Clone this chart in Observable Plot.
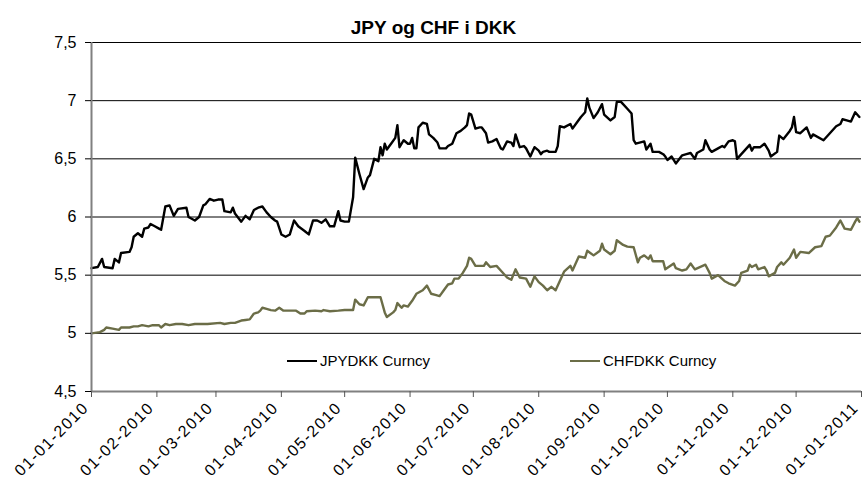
<!DOCTYPE html>
<html>
<head>
<meta charset="utf-8">
<script src="https://cdn.jsdelivr.net/npm/d3@7"></script>
<script src="https://cdn.jsdelivr.net/npm/@observablehq/plot@0.6"></script>
<style>
  body { margin: 0; background: #fff; }
  #wrap { position: relative; width: 863px; height: 483px; font-family: "Liberation Sans", Arial, sans-serif; }
  #title { position: absolute; left: 0; width: 863px; top: 17px; text-align: center; font-weight: bold; font-size: 19px; line-height: 22px; padding-left: 2px; }
  .leg { position: absolute; top: 352px; font-size: 15px; line-height: 18px; display: flex; align-items: center; }
  .leg span.sw { display: inline-block; width: 30px; height: 2.5px; margin-right: 3px; }
  svg text.xl { letter-spacing: 1.5px; }
</style>
</head>
<body>
<div id="wrap">
  <div id="title">JPY og CHF i DKK</div>
  <div id="chart"></div>
  <div class="leg" style="left:287px"><span class="sw" style="background:#000"></span>JPYDKK Curncy</div>
  <div class="leg" style="left:570px"><span class="sw" style="background:#6b6d47"></span>CHFDKK Curncy</div>
</div>
<script>
const seriesNames = ["JPYDKK Curncy", "CHFDKK Curncy"];
const seriesColors = ["#000000", "#6b6d47"];
const yTicks = [4.5, 5, 5.5, 6, 6.5, 7, 7.5];
const monthTicks = ["2010-01-01","2010-02-01","2010-03-01","2010-04-01","2010-05-01","2010-06-01","2010-07-01","2010-08-01","2010-09-01","2010-10-01","2010-11-01","2010-12-01","2011-01-01"];

const jpy = [
["2010-01-01",5.56],["2010-01-04",5.57],["2010-01-06",5.64],["2010-01-07",5.57],["2010-01-11",5.56],["2010-01-12",5.64],["2010-01-14",5.61],["2010-01-15",5.69],["2010-01-19",5.70],["2010-01-20",5.74],["2010-01-21",5.83],["2010-01-23",5.86],["2010-01-25",5.83],["2010-01-26",5.90],["2010-01-28",5.91],["2010-01-29",5.94],["2010-01-31",5.92],
["2010-02-02",5.90],["2010-02-03",5.89],["2010-02-05",6.09],["2010-02-07",6.10],["2010-02-09",6.01],["2010-02-11",6.07],["2010-02-15",6.08],["2010-02-16",6.00],["2010-02-19",5.97],["2010-02-21",6.00],["2010-02-23",6.10],["2010-02-24",6.11],["2010-02-26",6.155],["2010-02-28",6.14],
["2010-03-02",6.15],["2010-03-04",6.15],["2010-03-05",6.05],["2010-03-08",6.04],["2010-03-09",6.08],["2010-03-10",6.03],["2010-03-13",5.96],["2010-03-15",6.01],["2010-03-17",5.98],["2010-03-19",6.06],["2010-03-21",6.08],["2010-03-23",6.09],["2010-03-25",6.04],["2010-03-27",6.00],["2010-03-29",5.97],["2010-03-30",5.96],
["2010-04-01",5.85],["2010-04-03",5.83],["2010-04-05",5.85],["2010-04-07",5.97],["2010-04-09",5.92],["2010-04-12",5.88],["2010-04-14",5.85],["2010-04-16",5.97],["2010-04-18",5.97],["2010-04-20",5.95],["2010-04-22",5.98],["2010-04-24",5.92],["2010-04-26",5.92],["2010-04-28",6.05],["2010-04-29",5.97],
["2010-05-01",5.96],["2010-05-03",5.96],["2010-05-05",6.17],["2010-05-06",6.51],["2010-05-08",6.37],["2010-05-10",6.24],["2010-05-12",6.34],["2010-05-13",6.36],["2010-05-15",6.50],["2010-05-17",6.48],["2010-05-18",6.60],["2010-05-19",6.53],["2010-05-20",6.63],["2010-05-21",6.58],["2010-05-23",6.63],["2010-05-25",6.68],["2010-05-26",6.79],["2010-05-27",6.60],["2010-05-29",6.66],["2010-05-31",6.63],
["2010-06-01",6.63],["2010-06-02",6.68],["2010-06-03",6.59],["2010-06-04",6.59],["2010-06-05",6.77],["2010-06-07",6.81],["2010-06-09",6.80],["2010-06-10",6.71],["2010-06-12",6.68],["2010-06-14",6.64],["2010-06-15",6.59],["2010-06-18",6.59],["2010-06-19",6.61],["2010-06-21",6.63],["2010-06-23",6.72],["2010-06-25",6.74],["2010-06-27",6.77],["2010-06-28",6.79],["2010-06-29",6.89],["2010-06-30",6.88],
["2010-07-02",6.76],["2010-07-04",6.77],["2010-07-05",6.77],["2010-07-07",6.72],["2010-07-08",6.64],["2010-07-10",6.65],["2010-07-12",6.67],["2010-07-13",6.63],["2010-07-14",6.59],["2010-07-15",6.58],["2010-07-17",6.65],["2010-07-19",6.64],["2010-07-20",6.61],["2010-07-21",6.71],["2010-07-23",6.60],["2010-07-25",6.61],["2010-07-26",6.59],["2010-07-28",6.52],["2010-07-29",6.56],["2010-07-30",6.60],
["2010-08-01",6.57],["2010-08-02",6.54],["2010-08-03",6.56],["2010-08-05",6.57],["2010-08-06",6.56],["2010-08-09",6.56],["2010-08-10",6.61],["2010-08-11",6.78],["2010-08-13",6.77],["2010-08-16",6.80],["2010-08-17",6.76],["2010-08-19",6.81],["2010-08-21",6.86],["2010-08-23",6.90],["2010-08-24",7.02],["2010-08-25",6.94],["2010-08-27",6.85],["2010-08-29",6.90],["2010-08-31",6.97],
["2010-09-01",6.88],["2010-09-04",6.83],["2010-09-06",6.86],["2010-09-07",6.99],["2010-09-09",6.99],["2010-09-12",6.93],["2010-09-14",6.89],["2010-09-15",6.66],["2010-09-16",6.63],["2010-09-20",6.65],["2010-09-21",6.58],["2010-09-23",6.63],["2010-09-24",6.56],["2010-09-27",6.56],["2010-09-29",6.54],["2010-09-30",6.52],
["2010-10-01",6.49],["2010-10-03",6.52],["2010-10-05",6.46],["2010-10-08",6.53],["2010-10-10",6.54],["2010-10-12",6.55],["2010-10-14",6.50],["2010-10-15",6.55],["2010-10-18",6.58],["2010-10-19",6.66],["2010-10-21",6.58],["2010-10-22",6.56],["2010-10-25",6.59],["2010-10-27",6.61],["2010-10-28",6.60],["2010-10-30",6.65],
["2010-11-01",6.66],["2010-11-02",6.65],["2010-11-03",6.50],["2010-11-06",6.56],["2010-11-09",6.62],["2010-11-10",6.57],["2010-11-11",6.60],["2010-11-14",6.60],["2010-11-16",6.63],["2010-11-18",6.57],["2010-11-19",6.52],["2010-11-22",6.56],["2010-11-23",6.70],["2010-11-25",6.67],["2010-11-28",6.74],["2010-11-29",6.77],["2010-11-30",6.86],
["2010-12-01",6.73],["2010-12-03",6.72],["2010-12-06",6.77],["2010-12-08",6.68],["2010-12-09",6.71],["2010-12-14",6.66],["2010-12-17",6.72],["2010-12-20",6.78],["2010-12-22",6.80],["2010-12-23",6.84],["2010-12-25",6.83],["2010-12-27",6.82],["2010-12-29",6.90],["2010-12-31",6.86]
];

const chf = [
["2010-01-01",5.00],["2010-01-05",5.01],["2010-01-07",5.03],["2010-01-08",5.05],["2010-01-11",5.04],["2010-01-14",5.03],["2010-01-15",5.05],["2010-01-19",5.05],["2010-01-21",5.06],["2010-01-23",5.06],["2010-01-25",5.07],["2010-01-28",5.06],["2010-01-30",5.07],
["2010-02-02",5.07],["2010-02-03",5.05],["2010-02-05",5.08],["2010-02-07",5.07],["2010-02-10",5.08],["2010-02-13",5.08],["2010-02-16",5.07],["2010-02-19",5.08],["2010-02-25",5.08],
["2010-03-03",5.09],["2010-03-05",5.08],["2010-03-08",5.09],["2010-03-10",5.09],["2010-03-13",5.11],["2010-03-15",5.115],["2010-03-17",5.12],["2010-03-19",5.17],["2010-03-21",5.18],["2010-03-22",5.195],["2010-03-23",5.22],["2010-03-25",5.21],["2010-03-27",5.20],["2010-03-29",5.195],["2010-03-31",5.22],
["2010-04-02",5.195],["2010-04-08",5.195],["2010-04-10",5.17],["2010-04-12",5.17],["2010-04-13",5.19],["2010-04-17",5.195],["2010-04-20",5.19],["2010-04-21",5.20],["2010-04-24",5.19],["2010-04-28",5.195],
["2010-05-01",5.20],["2010-05-05",5.20],["2010-05-06",5.29],["2010-05-08",5.25],["2010-05-10",5.24],["2010-05-12",5.31],["2010-05-18",5.31],["2010-05-20",5.18],["2010-05-21",5.14],["2010-05-24",5.18],["2010-05-25",5.20],["2010-05-26",5.26],["2010-05-28",5.22],["2010-05-29",5.24],["2010-05-31",5.23],
["2010-06-02",5.28],["2010-06-04",5.34],["2010-06-07",5.37],["2010-06-09",5.41],["2010-06-11",5.34],["2010-06-13",5.33],["2010-06-15",5.32],["2010-06-17",5.37],["2010-06-19",5.42],["2010-06-21",5.43],["2010-06-22",5.47],["2010-06-24",5.47],["2010-06-26",5.52],["2010-06-28",5.58],["2010-06-29",5.65],["2010-06-30",5.64],
["2010-07-02",5.58],["2010-07-06",5.58],["2010-07-07",5.61],["2010-07-09",5.57],["2010-07-12",5.58],["2010-07-14",5.54],["2010-07-17",5.48],["2010-07-19",5.46],["2010-07-21",5.55],["2010-07-23",5.48],["2010-07-26",5.47],["2010-07-28",5.40],["2010-07-30",5.49],
["2010-08-01",5.44],["2010-08-03",5.41],["2010-08-05",5.37],["2010-08-07",5.40],["2010-08-09",5.37],["2010-08-11",5.45],["2010-08-13",5.53],["2010-08-16",5.58],["2010-08-17",5.54],["2010-08-20",5.66],["2010-08-23",5.65],["2010-08-24",5.71],["2010-08-27",5.67],["2010-08-30",5.71],["2010-08-31",5.77],
["2010-09-01",5.72],["2010-09-04",5.68],["2010-09-06",5.71],["2010-09-07",5.80],["2010-09-10",5.76],["2010-09-12",5.745],["2010-09-15",5.74],["2010-09-17",5.61],["2010-09-18",5.65],["2010-09-20",5.67],["2010-09-22",5.64],["2010-09-23",5.67],["2010-09-24",5.62],["2010-09-29",5.62],["2010-09-30",5.55],
["2010-10-04",5.60],["2010-10-05",5.56],["2010-10-08",5.54],["2010-10-10",5.55],["2010-10-12",5.60],["2010-10-14",5.55],["2010-10-19",5.59],["2010-10-21",5.52],["2010-10-22",5.47],["2010-10-25",5.50],["2010-10-28",5.45],["2010-10-30",5.43],
["2010-11-02",5.41],["2010-11-04",5.45],["2010-11-05",5.52],["2010-11-08",5.54],["2010-11-09",5.59],["2010-11-10",5.57],["2010-11-12",5.59],["2010-11-13",5.55],["2010-11-16",5.57],["2010-11-17",5.54],["2010-11-18",5.49],["2010-11-21",5.52],["2010-11-22",5.57],["2010-11-24",5.61],["2010-11-25",5.59],["2010-11-28",5.65],["2010-11-30",5.72],
["2010-12-01",5.65],["2010-12-03",5.70],["2010-12-07",5.69],["2010-12-10",5.74],["2010-12-13",5.75],["2010-12-15",5.83],["2010-12-17",5.84],["2010-12-20",5.91],["2010-12-22",5.97],["2010-12-24",5.90],["2010-12-27",5.89],["2010-12-29",5.96],["2010-12-30",5.99],["2010-12-31",5.96]
];

const toRows = (arr, name) => arr.map(([d, v]) => ({date: new Date(d + "T00:00:00Z"), value: v, series: name}));
const rows = [...toRows(jpy, seriesNames[0]), ...toRows(chf, seriesNames[1])];
const tickDates = monthTicks.map(d => new Date(d + "T00:00:00Z"));
const fmtDate = d3.utcFormat("%d-%m-%Y");
const fmtNum = d => String(d).replace(".", ",");

const chart = Plot.plot({
  width: 863,
  height: 483,
  marginLeft: 91,
  marginRight: 2,
  marginTop: 42,
  marginBottom: 92,
  style: {fontFamily: "'Liberation Sans', Arial, sans-serif", background: "#fff", color: "#000"},
  x: {type: "utc", domain: [tickDates[0], tickDates[tickDates.length - 1]], label: null},
  y: {domain: [4.5, 7.5], label: null},
  color: {domain: seriesNames, range: seriesColors},
  marks: [
    Plot.ruleY(yTicks.filter(v => v > 4.5), {stroke: "#000", strokeWidth: 1}),
    Plot.lineY(rows, {x: "date", y: "value", z: "series", stroke: "series", strokeWidth: 2.4, strokeLinejoin: "round"}),
    Plot.ruleY([yTicks[0]], {stroke: "#808080", strokeWidth: 2}),
    Plot.ruleX([tickDates[0]], {stroke: "#808080", strokeWidth: 2}),
    Plot.axisY({ticks: yTicks, tickFormat: fmtNum, tickSize: 6, tickPadding: 9, fontSize: 16, stroke: "#000", strokeOpacity: 1, label: null}),
    Plot.axisX({ticks: tickDates, tickFormat: () => "", tickSize: 6, stroke: "#555", strokeOpacity: 1, label: null}),
    Plot.text(tickDates, {x: d => d, text: d => fmtDate(d), frameAnchor: "bottom", rotate: -45, textAnchor: "end", lineAnchor: "top", dx: -10, dy: 9, fontSize: 16})
  ]
});
d3.select(chart).selectAll("g[aria-label='text'] text").attr("class", "xl");
document.getElementById("chart").appendChild(chart);
</script>
</body>
</html>
